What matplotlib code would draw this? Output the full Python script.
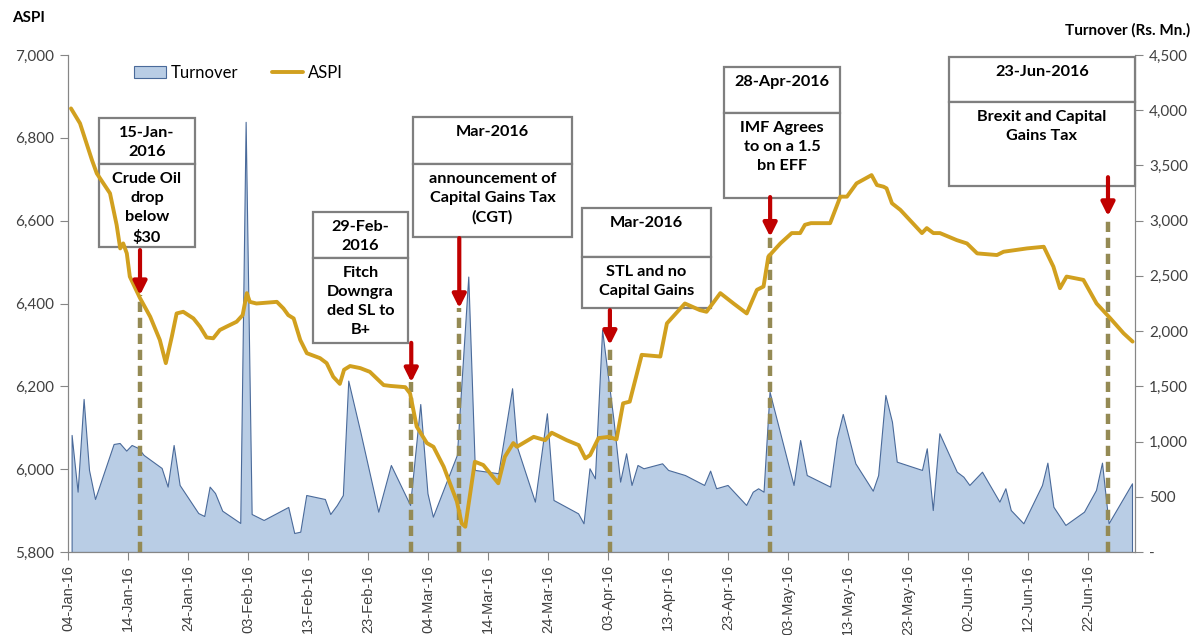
import numpy as np
import matplotlib
matplotlib.use("Agg")
import matplotlib.pyplot as plt
import matplotlib.dates as mdates
from matplotlib.patches import Rectangle

# Daily market data, x = days after 04-Jan-2016
start = "2016-01-04"

turnover_day = [0.6, 1.6, 2.6, 3.5, 4.5, 7.6, 8.6, 9.7, 10.6, 11.7, 12.6, 15.6, 16.6, 17.6,
                18.6, 21.7, 22.7, 23.6, 24.5, 25.7, 28.7, 29.6, 30.6, 32.6, 36.7, 37.7, 38.7,
                39.7, 42.8, 43.7, 44.8, 45.8, 46.7, 48.7, 51.7, 53.8, 57.0, 58.7, 59.9, 60.8,
                64.8, 66.7, 67.8, 71.7, 74.0, 74.8, 77.8, 79.8, 80.9, 85.0, 85.9, 86.9, 87.8,
                89.0, 90.9, 92.0, 93.0, 93.9, 94.9, 95.9, 99.0, 100.0, 102.8, 106.0, 107.0,
                108.0, 109.9, 113.0, 114.1, 115.0, 115.9, 116.9, 120.9, 122.0, 123.1, 127.0,
                128.1, 129.1, 131.2, 134.1, 135.0, 136.2, 137.3, 138.1, 142.3, 143.1, 144.1,
                145.2, 148.1, 149.2, 150.2, 152.3, 155.2, 156.2, 157.1, 159.2, 162.3, 163.2,
                164.2, 166.2, 169.3, 171.3, 172.3, 173.4, 177.3]
turnover = [1060, 546, 1386, 743, 480, 978, 987, 918, 969, 942, 879, 761, 592, 969,
            607, 353, 326, 592, 534, 374, 263, 3895, 344, 290, 408, 172, 184,
            516, 480, 344, 425, 516, 1552, 1090, 365, 788, 426, 1340, 532, 320,
            879, 2494, 743, 713, 1483, 954, 456, 1256, 471, 350, 260, 758, 667,
            2011, 1196, 637, 894, 607, 788, 758, 803, 743, 697, 607, 737,
            577, 607, 426, 546, 577, 546, 1452, 607, 1014, 697, 592,
            1029, 1250, 803, 555, 697, 1422, 1180, 818, 743, 939, 380,
            1075, 727, 682, 607, 727, 456, 577, 380, 260, 607, 809,
            410, 245, 365, 562, 809, 260, 622]

aspi_day = [0.5, 2.0, 4.0, 4.8, 7.0, 8.1, 8.7, 9.2, 9.8, 10.3, 12.0, 13.7, 15.3, 16.3,
            17.3, 18.1, 19.2, 20.9, 22.0, 23.1, 24.2, 25.3, 26.4, 28.1, 29.1, 29.8, 30.3,
            31.4, 34.8, 35.9, 36.7, 37.6, 38.7, 39.8, 42.0, 43.1, 44.2, 45.3, 46.0, 47.0,
            48.7, 50.3, 52.6, 53.7, 56.2, 57.0, 58.1, 59.8, 60.9, 62.6, 64.8, 65.6, 66.2,
            67.8, 69.2, 71.7, 72.8, 74.2, 74.8, 77.6, 79.5, 80.6, 83.1, 85.1, 86.2, 87.0,
            88.4, 90.1, 91.4, 92.5, 93.6, 95.6, 98.7, 99.8, 102.8, 105.3, 106.4, 108.7,
            110.9, 113.1, 114.8, 115.9, 116.7, 118.7, 120.6, 122.0, 122.8, 123.8, 127.0,
            128.7, 129.8, 131.4, 133.9, 134.8, 135.9, 136.4, 137.3, 138.7, 142.3, 143.1,
            144.2, 145.3, 148.1, 149.8, 151.5, 154.8, 155.9, 159.8, 162.6, 163.4, 164.2,
            165.3, 166.4, 169.2, 171.4, 173.7, 175.9, 177.4]
aspi = [6871, 6835, 6746, 6714, 6666, 6590, 6533, 6545, 6521, 6465, 6413, 6368, 6312, 6256,
        6320, 6376, 6380, 6364, 6344, 6318, 6316, 6336, 6344, 6356, 6372, 6425, 6404,
        6400, 6404, 6388, 6372, 6364, 6312, 6280, 6268, 6256, 6223, 6206, 6240, 6249,
        6244, 6235, 6203, 6201, 6198, 6183, 6103, 6063, 6054, 6006, 5922, 5869, 5861,
        6018, 6010, 5966, 6030, 6063, 6054, 6078, 6070, 6088, 6070, 6058, 6026, 6034,
        6075, 6078, 6072, 6159, 6163, 6276, 6272, 6352, 6400, 6384, 6380, 6425,
        6400, 6376, 6433, 6441, 6513, 6545, 6570, 6570, 6590, 6594, 6594,
        6658, 6658, 6690, 6710, 6686, 6682, 6678, 6642, 6626, 6570, 6582,
        6570, 6570, 6553, 6545, 6521, 6517, 6525, 6533, 6537, 6513, 6489,
        6437, 6465, 6457, 6400, 6364, 6328, 6308]

# events: day, ASPI level at arrow tip, arrow start level, header, text
event_day = [12.0, 57.2, 65.2, 90.3, 117.0, 173.3]
event_tip = [6420, 6210, 6389, 6300, 6561, 6611]
event_from = [6529, 6305, 6558, 6384, 6657, 6705]
event_head = ["15-Jan-\n2016", "29-Feb-\n2016", "Mar-2016", "Mar-2016", "28-Apr-2016", "23-Jun-2016"]
event_text = ["Crude Oil\ndrop\nbelow\n\\$30", "Fitch\nDowngra\nded SL to\nB+",
              "announcement of\nCapital Gains Tax\n(CGT)", "STL and no\nCapital Gains",
              "IMF Agrees\nto on a 1.5\nbn EFF", "Brexit and Capital\nGains Tax"]

# box layout in pixels: left, right, top, divider, bottom
boxes = [(99, 195, 118, 164, 247), (313, 408, 212, 258, 343), (413, 572, 117, 164, 237),
         (582, 711, 208, 257, 308), (724, 840, 67, 113, 198), (949, 1135, 57, 102, 186)]

W, H = 1195, 635
x0 = mdates.date2num(np.datetime64(start))

fig = plt.figure(figsize=(W / 100, H / 100), dpi=100)
ax = fig.add_axes([68 / W, 1 - 552 / H, (1135 - 68) / W, (552 - 55) / H])
ax2 = ax.twinx()
ax.set_zorder(ax2.get_zorder() + 1)
ax.patch.set_visible(False)

gold = "#D1A01F"
tx = x0 + np.array(turnover_day)
ax2.fill_between(tx, 0, turnover, facecolor="#B9CDE5", edgecolor="#4A6A9A", linewidth=0.8,
                 label="Turnover")
ax2.set_ylim(0, 4500)
ax2.set_yticks(np.arange(0, 4501, 500))
ax2.set_yticklabels(["-"] + [f"{v:,}" for v in range(500, 4501, 500)])

ax.plot(x0 + np.array(aspi_day), aspi, color=gold, lw=2.8, zorder=5,
        solid_joinstyle="round", solid_capstyle="round", label="ASPI")
ax.set_ylim(5800, 7000)
ax.set_yticks(np.arange(5800, 7001, 200))
ax.set_yticklabels([f"{v:,}" for v in range(5800, 7001, 200)])
ax.set_xlim(x0, x0 + 177.8)
ax.set_xticks(x0 + np.arange(0, 171, 10))
ax.xaxis.set_major_formatter(mdates.DateFormatter("%d-%b-%y"))
for lab in ax.get_xticklabels():
    lab.set_rotation(90)
    lab.set_fontfamily("Liberation Sans")
    lab.set_fontsize(10.5)

for a in (ax, ax2):
    for s in a.spines.values():
        s.set_color("#868686")
    a.spines["top"].set_visible(False)
    a.tick_params(colors="#868686", labelcolor="#404040", length=6, width=0.8)
ax.tick_params(axis="y", labelsize=11, pad=4)
ax2.tick_params(axis="y", labelsize=11, pad=4)
for lab in ax.get_yticklabels() + ax2.get_yticklabels():
    lab.set_fontfamily("Lato")

# event markers
for d, tip, frm in zip(event_day, event_tip, event_from):
    ax.plot([x0 + d, x0 + d], [5800, tip], color="#948A54", lw=3.2,
            linestyle=(0, (2.3, 1.3)), zorder=4, clip_on=False)
    ax.annotate("", xy=(x0 + d, tip), xytext=(x0 + d, frm), zorder=6,
                arrowprops=dict(arrowstyle="-|>,head_width=0.2,head_length=0.4",
                                color="#C00000", lw=3, mutation_scale=20,
                                shrinkA=0, shrinkB=0))

tf = fig.transFigure
box_font = dict(fontsize=11.7, fontweight="bold", family="Lato", linespacing=1.46,
                ha="center", va="top", zorder=7, clip_on=False)
for (l, r, t, dv, b), head, body in zip(boxes, event_head, event_text):
    for top, bot in ((t, dv), (dv, b)):
        ax.add_patch(Rectangle((l / W, 1 - bot / H), (r - l) / W, (bot - top) / H,
                               transform=tf, facecolor="white", edgecolor="#7F7F7F",
                               lw=1.6, zorder=3, clip_on=False))
    cx = (l + r) / 2 / W
    ax.text(cx, 1 - (t + 8) / H, head, transform=tf, **box_font)
    ax.text(cx, 1 - (dv + 8) / H, body, transform=tf, **box_font)

h1, l1 = ax2.get_legend_handles_labels()
h2, l2 = ax.get_legend_handles_labels()
ax.legend(h1 + h2, l1 + l2, loc="upper left", bbox_to_anchor=(0.048, 1.01), ncol=2,
          frameon=False, prop={"family": "Lato", "size": 12}, handlelength=1.9,
          columnspacing=2.0, handletextpad=0.3)

fig.text(12 / W, 1 - 18 / H, "ASPI", fontsize=11, fontweight="bold", family="Lato",
         va="center", ha="left")
fig.text(1190 / W, 1 - 30 / H, "Turnover (Rs. Mn.)", fontsize=11, fontweight="bold",
         family="Lato", va="center", ha="right")

fig.savefig("out.png", dpi=100)
